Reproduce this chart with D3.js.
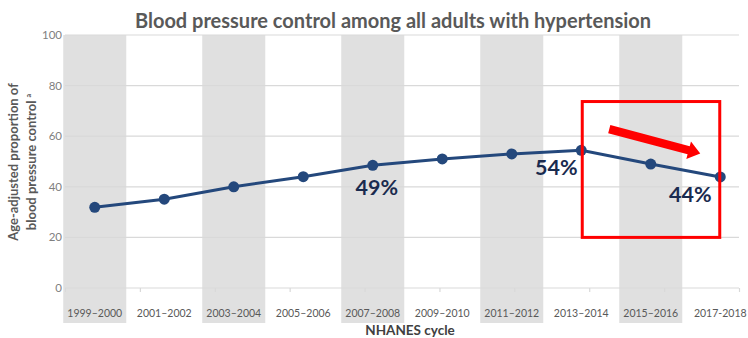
<!DOCTYPE html>
<html>
<head>
<meta charset="utf-8">
<script src="https://cdn.jsdelivr.net/npm/d3@7/dist/d3.min.js"></script>
<style>
  html, body { margin: 0; padding: 0; background: #ffffff; }
  svg { display: block; }
  text { font-family: Lato, "Open Sans", sans-serif; }
</style>
</head>
<body>
<svg id="chart" width="748" height="338"></svg>
<script>
// NHANES survey cycles and age-adjusted BP control (%)
const cycles = ["1999–2000", "2001–2002", "2003–2004", "2005–2006", "2007–2008",
                "2009–2010", "2011–2012", "2013–2014", "2015–2016", "2017-2018"];
const controlPct = [31.9, 35.1, 40.0, 44.0, 48.5, 51.0, 53.0, 54.4, 49.0, 43.9];
const yTicks = [0, 20, 40, 60, 80, 100];
// cycles whose value is called out with a percentage label
const calloutCycles = ["2007–2008", "2013–2014", "2017-2018"];

const W = 748, H = 338;
const svg = d3.select("#chart");

const y = d3.scaleLinear().domain([0, 100]).range([288, 35]);
const x = d3.scaleBand().domain(cycles).range([60, 755]).padding(0);
const cx = d => x(d) + x.bandwidth() / 2;
// category axis frame spans the plot width
const xFrame = d3.scalePoint().domain(cycles).range([65, 739]);
const plotLeft = 65, plotRight = 739;

// alternating shaded columns
const bandW = 63;
svg.append("g").selectAll("rect")
  .data(cycles.filter((d, i) => i % 2 === 0))
  .join("rect")
  .attr("x", d => cx(d) - bandW / 2)
  .attr("y", y(100))
  .attr("width", bandW)
  .attr("height", 323 - y(100))
  .attr("fill", "#e0e0e0");

// horizontal gridlines
svg.append("g").selectAll("line")
  .data(yTicks)
  .join("line")
  .attr("x1", plotLeft).attr("x2", plotRight)
  .attr("y1", d => y(d)).attr("y2", d => y(d))
  .attr("stroke", "#d9d9d9").attr("stroke-width", 1.2);

// y axis labels
svg.append("g").selectAll("text")
  .data(yTicks)
  .join("text")
  .attr("x", 62).attr("y", d => y(d))
  .attr("dy", "0.35em")
  .attr("text-anchor", "end")
  .attr("font-size", 11.5)
  .attr("fill", "#7f7f7f")
  .text(d => d);

// small category ticks under the baseline
const xAxis = d3.axisBottom(xFrame).tickSize(4).tickFormat("");
const gx = svg.append("g").attr("transform", `translate(0,${y(0)})`).call(xAxis);
gx.select(".domain").remove();
gx.selectAll(".tick line").attr("stroke", "#d9d9d9").attr("stroke-width", 1.2);

// category labels
svg.append("g").selectAll("text")
  .data(cycles)
  .join("text")
  .attr("x", d => cx(d))
  .attr("y", 317)
  .attr("text-anchor", "middle")
  .attr("font-size", 10.5)
  .attr("fill", "#595959")
  .text(d => d);

// axis titles
svg.append("text")
  .attr("x", 410).attr("y", 335)
  .attr("text-anchor", "middle")
  .attr("font-size", 13.5).attr("font-weight", "bold")
  .attr("fill", "#404040")
  .text("NHANES cycle");

const yTitle = svg.append("text")
  .attr("transform", "translate(0,162) rotate(-90)")
  .attr("text-anchor", "middle")
  .attr("font-size", 13).attr("font-weight", "bold")
  .attr("fill", "#595959");
yTitle.append("tspan").attr("x", 0).attr("y", 18).text("Age-adjusted proportion of");
yTitle.append("tspan").attr("x", 0).attr("y", 36).text("blood pressure control ");
yTitle.append("tspan").attr("font-size", 7).attr("dy", -5).text("a");

// chart title
svg.append("text")
  .attr("x", 393).attr("y", 28)
  .attr("text-anchor", "middle")
  .attr("font-size", 20).attr("font-weight", "bold")
  .attr("fill", "#595959")
  .text("Blood pressure control among all adults with hypertension");

// trend line and markers
const pts = cycles.map((c, i) => ({ c, v: controlPct[i] }));
svg.append("path")
  .datum(pts)
  .attr("fill", "none")
  .attr("stroke", "#24487c")
  .attr("stroke-width", 3)
  .attr("d", d3.line().x(d => cx(d.c)).y(d => y(d.v)));

svg.append("g").selectAll("circle")
  .data(pts)
  .join("circle")
  .attr("cx", d => cx(d.c))
  .attr("cy", d => y(d.v))
  .attr("r", 5.5)
  .attr("fill", "#24487c");

// percentage callouts
const calloutOffset = { "2007–2008": [4, 30], "2013–2014": [-25, 25], "2017-2018": [-30, 25] };
svg.append("g").selectAll("text")
  .data(pts.filter(d => calloutCycles.includes(d.c)))
  .join("text")
  .attr("x", d => cx(d.c) + calloutOffset[d.c][0])
  .attr("y", d => y(d.v) + calloutOffset[d.c][1])
  .attr("text-anchor", "middle")
  .attr("font-size", 21.5).attr("font-weight", "bold")
  .attr("fill", "#1a2b4f")
  .text(d => Math.round(d.v) + "%");

// highlight box around the recent decline
const boxL = cx("2013–2014") + 1, boxR = cx("2017-2018") - 0.5;
svg.append("rect")
  .attr("x", boxL).attr("y", y(73.7))
  .attr("width", boxR - boxL).attr("height", y(20) - y(73.7))
  .attr("fill", "none")
  .attr("stroke", "#ff0000")
  .attr("stroke-width", 3);

// downward arrow
const a0 = [cx("2013–2014") + 28, y(62.8)];
const a1 = [cx("2017-2018") - 20, y(53.2)];
const ang = Math.atan2(a1[1] - a0[1], a1[0] - a0[0]);
const len = Math.hypot(a1[0] - a0[0], a1[1] - a0[1]);
const sw = 4.2, hw = 9, hl = 12;
const shape = [[0, -sw], [len - hl, -sw], [len - hl, -hw], [len, 0], [len - hl, hw], [len - hl, sw], [0, sw]];
svg.append("polygon")
  .attr("points", shape.map(p => p.join(",")).join(" "))
  .attr("transform", `translate(${a0[0]},${a0[1]}) rotate(${ang * 180 / Math.PI})`)
  .attr("fill", "#ff0000");
</script>
</body>
</html>
